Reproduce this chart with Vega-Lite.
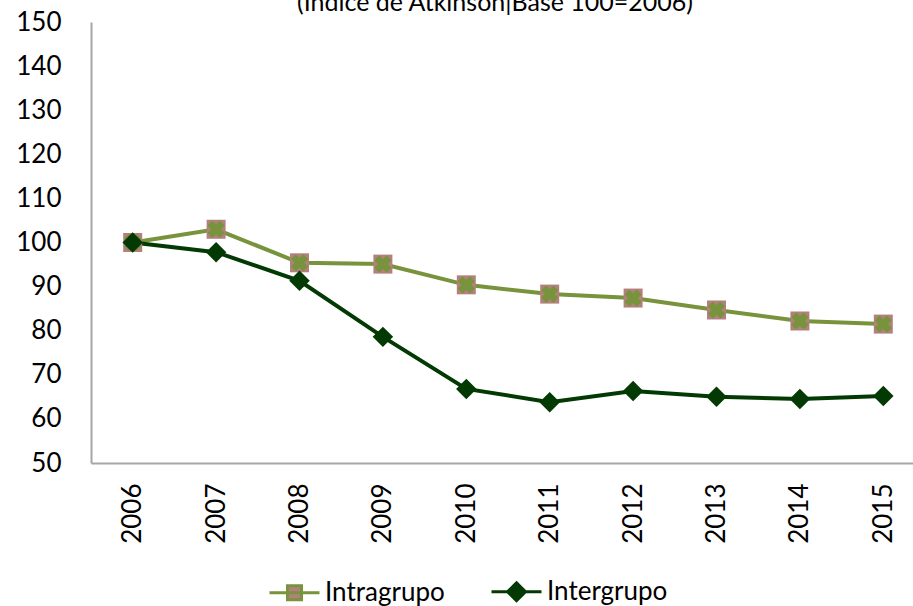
{
  "$schema": "https://vega.github.io/schema/vega-lite/v6.json",
  "width": 834,
  "height": 441,
  "autosize": "none",
  "padding": {"left": 91, "top": 22, "right": 0, "bottom": 143},
  "background": "white",
  "title": {"text": "(Índice de Atkinson|Base 100=2006)", "font": "Lato", "fontSize": 25, "fontWeight": "normal", "color": "#000000", "dx": -13, "offset": -7},
  "config": {"view": {"stroke": null}, "font": "Lato"},
  "data": {"values": [
    {"year": "2006", "series": "Intragrupo", "value": 100.0},
    {"year": "2007", "series": "Intragrupo", "value": 103.0},
    {"year": "2008", "series": "Intragrupo", "value": 95.4},
    {"year": "2009", "series": "Intragrupo", "value": 95.1},
    {"year": "2010", "series": "Intragrupo", "value": 90.4},
    {"year": "2011", "series": "Intragrupo", "value": 88.3},
    {"year": "2012", "series": "Intragrupo", "value": 87.4},
    {"year": "2013", "series": "Intragrupo", "value": 84.7},
    {"year": "2014", "series": "Intragrupo", "value": 82.2},
    {"year": "2015", "series": "Intragrupo", "value": 81.5},
    {"year": "2006", "series": "Intergrupo", "value": 100.0},
    {"year": "2007", "series": "Intergrupo", "value": 97.8},
    {"year": "2008", "series": "Intergrupo", "value": 91.3},
    {"year": "2009", "series": "Intergrupo", "value": 78.6},
    {"year": "2010", "series": "Intergrupo", "value": 66.8},
    {"year": "2011", "series": "Intergrupo", "value": 63.8},
    {"year": "2012", "series": "Intergrupo", "value": 66.3},
    {"year": "2013", "series": "Intergrupo", "value": 65.0},
    {"year": "2014", "series": "Intergrupo", "value": 64.5},
    {"year": "2015", "series": "Intergrupo", "value": 65.2}
  ]},
  "encoding": {
    "x": {"field": "year", "type": "ordinal", "scale": {"paddingInner": 0, "paddingOuter": 0},
      "axis": {"title": null, "labelAngle": 270, "labelFont": "Lato", "labelFontSize": 26, "labelColor": "#000000", "labelPadding": 20, "ticks": false, "domainColor": "#A6A6A6", "domainWidth": 2}},
    "y": {"field": "value", "type": "quantitative", "scale": {"domain": [50, 150], "nice": false, "zero": false},
      "axis": {"title": null, "values": [50, 60, 70, 80, 90, 100, 110, 120, 130, 140, 150], "grid": false, "ticks": false, "labelFont": "Lato", "labelFontSize": 26, "labelColor": "#000000", "labelPadding": 30, "domainColor": "#A6A6A6", "domainWidth": 2}}
  },
  "layer": [
    {"mark": {"type": "line", "strokeWidth": 4},
     "encoding": {"stroke": {"field": "series", "type": "nominal", "title": null,
       "scale": {"domain": ["Intragrupo", "Intergrupo"], "range": ["#77933C", "#033A03"]},
       "legend": {"orient": "none", "legendX": 177, "legendY": 543, "direction": "horizontal", "labelFont": "Lato", "labelFontSize": 26, "labelColor": "#000000", "symbolSize": 2500, "symbolStrokeWidth": 3, "symbolOpacity": 1, "columnPadding": 40, "labelOffset": 4,
         "encode": {"symbols": {"update": {"fill": {"scale": "fill", "field": "value"}, "fillOpacity": {"value": 1}}}}}}}},
    {"transform": [{"filter": "datum.series === 'Intragrupo'"}],
     "mark": {"type": "point", "shape": "square", "filled": true, "size": 361, "color": "#B3807E", "opacity": 1}},
    {"transform": [{"filter": "datum.series === 'Intragrupo'"}],
     "mark": {"type": "point", "shape": "cross", "angle": 45, "filled": true, "size": 300, "color": "#77933C", "opacity": 1}},
    {"transform": [{"filter": "datum.series === 'Intergrupo'"}],
     "mark": {"type": "point", "shape": "diamond", "filled": true, "size": 420, "color": "#033A03", "opacity": 1}},
    {"mark": {"type": "point", "filled": true, "opacity": 0, "strokeWidth": 3},
     "encoding": {
       "stroke": {"field": "series", "type": "nominal", "title": null},
       "fill": {"field": "series", "type": "nominal", "title": null,
         "scale": {"domain": ["Intragrupo", "Intergrupo"], "range": ["#B3807E", "#033A03"]}},
       "shape": {"field": "series", "type": "nominal", "title": null,
         "scale": {"domain": ["Intragrupo", "Intergrupo"], "range": ["M-1,0L1,0M-0.28,-0.28L0.28,-0.28L0.28,0.28L-0.28,0.28Z", "M-1,0L1,0M0,-0.36L0.36,0L0,0.36L-0.36,0Z"]}}
     }}
  ]
}
